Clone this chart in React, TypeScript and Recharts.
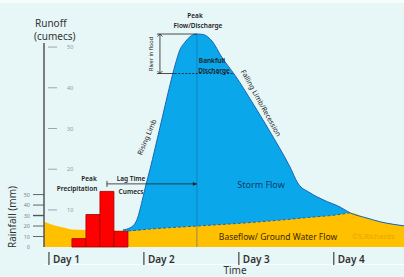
import React from "react";
import {
  ComposedChart,
  Area,
  Bar,
  Line,
  XAxis,
  YAxis,
  ReferenceLine,
} from "recharts";

// time is in hours from the start of day 1, runoff in cumecs, rainfall in mm
const baseTimes = [-1.25, 1.5, 4, 5.8, 12.9, 20, 25.5, 38.2, 50.8, 58.4, 66, 72.8, 76.1, 80.4, 83.7, 89.75];
const baseflow = [7.1, 6.2, 5.6, 5.2, 5.0, 4.85, 5.3, 6.1, 6.9, 7.5, 8.2, 8.8, 9.3, 8.0, 7.1, 6.1];

const flowTimes = [
  18.7, 20.5, 22.2, 23.8, 24.5, 25.5, 28.1, 30.6, 31.9, 33.1, 34.4, 35.6, 37.4, 38.9, 41.2,
  43.7, 47, 52.1, 57.1, 59.7, 60.9, 62.9, 66, 69.3, 73.6, 76.1, 80.4, 83.7, 89.75,
];
const discharge = [
  5.1, 5.6, 7.5, 13.2, 16.1, 19.8, 30.4, 40.7, 45.6, 49.3, 51.2, 52.5, 53.2, 53.1, 51.5,
  47.5, 43.1, 35.3, 27.2, 22.8, 20.6, 16.6, 14.2, 12.5, 10.7, 9.3, 8.0, 7.1, 6.1,
];

const rainTimes = [7.58, 11.12, 14.66, 18.2];
const rainfall = [8, 31, 53, 15];

const dayStarts = [0, 24, 48, 72];
const dayLabels = ["Day 1", "Day 2", "Day 3", "Day 4"];
const runoffTicks = [10, 20, 30, 40, 50];
const rainTicks = [0, 10, 20, 30, 40, 50];

const peakTime = 37.4;
const peakFlow = 53.2;
const bankfull = 43.5;

const T_DOMAIN = [-1.25, 89.75];
const Q_DOMAIN = [0.9, 59.1];
const AXIS_X = 44;

const baseRows = baseTimes.map((t, i) => ({ t, q: baseflow[i] }));
const flowRows = flowTimes.map((t, i) => ({ t, q: discharge[i] }));
const rainRows = rainTimes.map((t, i) => ({ t, rain: rainfall[i] }));
// dashed storm/baseflow boundary only where the storm flow sits on top
const boundaryRows = baseRows.filter((r) => r.t >= 20 && r.t <= 76.1);

const FONT = "'Noto Sans', 'DejaVu Sans', sans-serif";

function DayTick({ x, y, payload }: any) {
  const i = dayStarts.indexOf(payload.value);
  return (
    <g>
      <line x1={x} x2={x} y1={y + 3} y2={y + 16} stroke="#444" strokeWidth={1.2} />
      <text x={x + 4} y={y + 14} fontSize={10} fontWeight={600} fill="#333" fontFamily={FONT}>
        {dayLabels[i]}
      </text>
    </g>
  );
}

function RunoffTick({ y, payload }: any) {
  return (
    <g>
      <line x1={AXIS_X + 4} x2={AXIS_X + 13} y1={y} y2={y} stroke="#9aa" strokeWidth={1} />
      <text x={AXIS_X + 23} y={y + 2} fontSize={5.5} fill="#8a9a9a" fontFamily={FONT}>
        {payload.value}
      </text>
    </g>
  );
}

function RainTick({ y, payload }: any) {
  return (
    <g>
      {payload.value > 0 && (
        <line
          x1={AXIS_X - 11}
          x2={AXIS_X}
          y1={y}
          y2={y}
          stroke="#555"
          strokeWidth={payload.value === 30 ? 1.4 : 0.9}
        />
      )}
      <text x={AXIS_X - 14} y={y + 2} fontSize={5.5} fill="#7a8a8a" textAnchor="end" fontFamily={FONT}>
        {payload.value}
      </text>
    </g>
  );
}

function ArrowShape(both: boolean, startTick: boolean) {
  return (p: any) => {
    const { x1, y1, x2, y2 } = p;
    const horiz = Math.abs(y2 - y1) < Math.abs(x2 - x1);
    const head = (x: number, y: number, dir: number) =>
      horiz ? (
        <path d={`M${x},${y} L${x - 4 * dir},${y - 1.8} L${x - 4 * dir},${y + 1.8} Z`} fill="#222" />
      ) : (
        <path
          d={`M${x - 2.5},${y - 2.5 * dir} L${x},${y} L${x + 2.5},${y - 2.5 * dir}`}
          fill="none"
          stroke="#222"
          strokeWidth={0.8}
        />
      );
    const d1 = horiz ? Math.sign(x2 - x1) : Math.sign(y2 - y1);
    return (
      <g>
        <line x1={x1} y1={y1} x2={x2} y2={y2} stroke="#222" strokeWidth={0.8} />
        {head(x2, y2, d1)}
        {both && head(x1, y1, -d1)}
        {startTick && <line x1={x1} x2={x1} y1={y1 - 3} y2={y1 + 3} stroke="#222" strokeWidth={0.8} />}
      </g>
    );
  };
}

const txt = (
  x: number,
  y: number,
  s: number,
  label: string,
  opts: { a?: number; c?: string; w?: number; left?: boolean } = {}
) => (
  <div
    key={label + x + y}
    style={{
      position: "absolute",
      left: x,
      top: y,
      transform: `translate(${opts.left ? "0" : "-50%"},-50%) rotate(${opts.a ?? 0}deg)`,
      fontSize: s,
      color: opts.c ?? "#1a1a1a",
      fontWeight: opts.w ?? 400,
      whiteSpace: "nowrap",
      lineHeight: 1,
      fontFamily: FONT,
    }}
  >
    {label}
  </div>
);

export default function App() {
  return (
    <div style={{ position: "relative", width: 404, height: 277, background: "#e7f6f7", overflow: "hidden" }}>
      <style>{"body{margin:0}"}</style>
      <div style={{ position: "absolute", left: 0, top: 0, width: 404, height: 3, background: "#f6fcfc" }} />
      <div style={{ position: "absolute", left: 44, top: 264, width: 360, height: 1, background: "#fbffff" }} />
      <ComposedChart
        width={404}
        height={277}
        data={rainRows}
        margin={{ top: 10, right: 0, bottom: 0, left: 8 }}
        style={{ position: "absolute", left: 0, top: 0 }}
      >
        <XAxis
          dataKey="t"
          type="number"
          domain={T_DOMAIN}
          ticks={dayStarts}
          tick={<DayTick />}
          tickLine={false}
          axisLine={false}
          tickSize={0}
          height={30}
          interval={0}
        />
        <XAxis xAxisId="f" dataKey="t" type="number" domain={T_DOMAIN} hide />
        <YAxis
          yAxisId="rain"
          orientation="left"
          width={36}
          type="number"
          domain={[0, 226]}
          ticks={rainTicks}
          tick={<RainTick />}
          tickLine={false}
          axisLine={false}
          tickSize={0}
          interval={0}
        />
        <YAxis
          yAxisId="q"
          orientation="left"
          mirror
          width={10}
          type="number"
          domain={Q_DOMAIN}
          ticks={runoffTicks}
          tick={<RunoffTick />}
          tickLine={false}
          axisLine={false}
          tickSize={0}
          interval={0}
        />
        <Area
          xAxisId="f"
          yAxisId="q"
          data={flowRows}
          dataKey="q"
          type="monotone"
          fill="#0aa8ea"
          fillOpacity={1}
          stroke="none"
          baseValue="dataMin"
          isAnimationActive={false}
        />
        <Area
          xAxisId="f"
          yAxisId="q"
          data={baseRows}
          dataKey="q"
          type="monotone"
          fill="#ffc000"
          fillOpacity={1}
          stroke="none"
          baseValue="dataMin"
          isAnimationActive={false}
        />
        <Line
          xAxisId="f"
          yAxisId="q"
          data={boundaryRows}
          dataKey="q"
          type="monotone"
          stroke="#1b64b8"
          strokeWidth={1}
          strokeDasharray="3 2"
          dot={false}
          isAnimationActive={false}
        />
        <Line
          xAxisId="f"
          yAxisId="q"
          data={flowRows}
          dataKey="q"
          type="monotone"
          stroke="#1b64b8"
          strokeWidth={1}
          dot={false}
          isAnimationActive={false}
        />
        <ReferenceLine
          xAxisId="f"
          yAxisId="q"
          segment={[{ x: peakTime, y: Q_DOMAIN[0] }, { x: peakTime, y: peakFlow }]}
          stroke="#1f5a9c"
          strokeWidth={0.7}
          strokeOpacity={0.7}
          ifOverflow="visible"
        />
        <Bar
          yAxisId="rain"
          dataKey="rain"
          barSize={14}
          fill="#ff0000"
          stroke="#a00000"
          strokeWidth={0.8}
          isAnimationActive={false}
        />
        {/* runoff axis line */}
        <ReferenceLine
          xAxisId="f"
          yAxisId="q"
          segment={[{ x: T_DOMAIN[0], y: Q_DOMAIN[0] }, { x: T_DOMAIN[0], y: 51 }]}
          stroke="#555"
          strokeWidth={1.5}
          ifOverflow="visible"
        />
        {/* peak and bankfull level markers */}
        <ReferenceLine
          xAxisId="f"
          yAxisId="q"
          segment={[{ x: 27.3, y: peakFlow }, { x: peakTime, y: peakFlow }]}
          stroke="#222"
          strokeWidth={0.8}
          ifOverflow="visible"
        />
        <ReferenceLine
          xAxisId="f"
          yAxisId="q"
          segment={[{ x: 27.3, y: bankfull }, { x: 31.8, y: bankfull }]}
          stroke="#222"
          strokeWidth={0.8}
          ifOverflow="visible"
        />
        <ReferenceLine
          xAxisId="f"
          yAxisId="q"
          segment={[{ x: 31.8, y: bankfull }, { x: 46.6, y: bankfull }]}
          stroke="#222"
          strokeWidth={0.9}
          strokeDasharray="2 1.5"
          ifOverflow="visible"
        />
        <ReferenceLine
          xAxisId="f"
          yAxisId="q"
          segment={[{ x: 28.06, y: bankfull }, { x: 28.06, y: peakFlow }]}
          shape={ArrowShape(true, false)}
          ifOverflow="visible"
        />
        {/* lag time arrow */}
        <ReferenceLine
          xAxisId="f"
          yAxisId="q"
          segment={[{ x: rainTimes[2], y: 16.4 }, { x: peakTime, y: 16.4 }]}
          shape={ArrowShape(false, true)}
          ifOverflow="visible"
        />
      </ComposedChart>

      {txt(35, 23, 10, "Runoff", { left: true, c: "#333" })}
      {txt(34, 36, 10, "(cumecs)", { left: true, c: "#333" })}
      {txt(12, 217, 10, "Rainfall (mm)", { a: -90, c: "#333" })}
      {txt(195, 16, 6.5, "Peak", { w: 600 })}
      {txt(198, 26, 6.5, "Flow/Discharge", { w: 600 })}
      {txt(152, 54, 5.5, "River in flood", { a: -90 })}
      {txt(212, 61, 6.5, "Bankfull", { w: 600 })}
      {txt(214, 71, 6.5, "Discharge", { w: 600 })}
      {txt(147, 137, 7, "Rising Limb", { a: -67 })}
      {txt(261, 103, 7, "Falling Limb/Recession", { a: 61 })}
      {txt(89, 179, 6.5, "Peak", { w: 600 })}
      {txt(77, 189, 6.5, "Precipitation", { w: 600 })}
      {txt(131, 179, 6.5, "Lag Time", { w: 600 })}
      {txt(131, 192, 6.5, "Cumecs", { w: 600 })}
      {txt(261, 184, 9, "Storm Flow", { c: "#0b3a6a" })}
      {txt(278, 237, 8.5, "Baseflow/ Ground Water Flow", { c: "#3a2a00" })}
      {txt(352, 237, 7.5, "©S.Richards", { left: true, c: "#eaa400" })}
      {txt(235, 270, 10, "Time", { c: "#333" })}
    </div>
  );
}
